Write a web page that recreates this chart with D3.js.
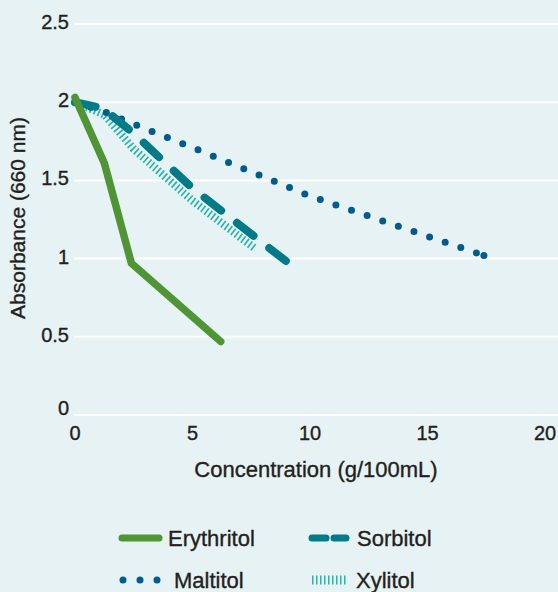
<!DOCTYPE html>
<html>
<head>
<meta charset="utf-8">
<script src="https://cdn.jsdelivr.net/npm/d3@7"></script>
<style>
html,body{margin:0;padding:0;background:#e6f2f3;}
svg{display:block;}
text{font-family:"Liberation Sans",Arial,Helvetica,sans-serif;fill:#231f20;stroke:#231f20;stroke-width:0.35px;}
</style>
</head>
<body>
<svg id="chart" width="558" height="592"></svg>
<script>
// ---- data ----
const xTicks = [0, 5, 10, 15, 20];
const yTicks = [0, 0.5, 1, 1.5, 2, 2.5];
const yTickLabels = ["0", "0.5", "1", "1.5", "2", "2.5"];
const seriesNames = ["Erythritol", "Sorbitol", "Maltitol", "Xylitol"];
const erythritolX = [0, 1.25, 2.4, 6.2];
const erythritolY = [2.03, 1.61, 0.97, 0.47];
const sorbitolX = [0, 1.2, 2.5, 5, 9.1];
const sorbitolY = [2.0, 1.96, 1.8, 1.45, 0.97];
const maltitolX = [0, 1.25, 2.5, 5, 10, 17.4];
const maltitolY = [2.0, 1.94, 1.86, 1.71, 1.40, 1.02];
const xylitolX = [0, 1.25, 2.5, 5, 7.7];
const xylitolY = [2.0, 1.92, 1.70, 1.37, 1.06];
const xTitle = "Concentration (g/100mL)";
const yTitle = "Absorbance (660 nm)";

const svg = d3.select("#chart");
const x = d3.scaleLinear().domain([0, 20]).range([75, 545]);
const y = d3.scaleLinear().domain([0, 2.5]).range([415, 24]);

// gridlines
svg.append("g").selectAll("line").data(yTicks).join("line")
  .attr("x1", 74).attr("x2", 558)
  .attr("y1", d => y(d)).attr("y2", d => y(d))
  .attr("stroke", "#ffffff").attr("stroke-width", 2);

// y tick labels
svg.append("g").selectAll("text").data(yTicks).join("text")
  .attr("x", 69).attr("y", d => d === 0 ? y(d) : y(d) + 5)
  .attr("text-anchor", "end").attr("font-size", 20)
  .text((d, i) => yTickLabels[i]);

// x tick labels
svg.append("g").selectAll("text").data(xTicks).join("text")
  .attr("x", d => x(d)).attr("y", 440)
  .attr("text-anchor", "middle").attr("font-size", 20)
  .text(d => d);

// axis titles
svg.append("text").attr("x", 316).attr("y", 477)
  .attr("text-anchor", "middle").attr("font-size", 22).text(xTitle);
svg.append("text").attr("transform", "translate(25,218) rotate(-90)")
  .attr("text-anchor", "middle").attr("font-size", 21).text(yTitle);

const styles = {
  Erythritol: {color: "#4f9535", width: 7.5, dash: null, cap: "round"},
  Sorbitol: {color: "#007b87", width: 8, dash: "21 20", cap: "round"},
  Maltitol: {color: "#005c8c", width: 7, dash: "0 16.5", cap: "round"},
  Xylitol: {color: "#2bb3ae", width: 8, dash: "1.7 2.5", cap: "butt"}
};
const seriesData = {
  Erythritol: erythritolX.map((v, i) => [v, erythritolY[i]]),
  Sorbitol: sorbitolX.map((v, i) => [v, sorbitolY[i]]),
  Maltitol: maltitolX.map((v, i) => [v, maltitolY[i]]),
  Xylitol: xylitolX.map((v, i) => [v, xylitolY[i]])
};
const line = d3.line().x(d => x(d[0])).y(d => y(d[1]));
const drawOrder = ["Xylitol", "Maltitol", "Sorbitol", "Erythritol"];
drawOrder.forEach(name => {
  const s = styles[name];
  svg.append("path").datum(seriesData[name])
    .attr("d", line).attr("fill", "none")
    .attr("stroke", s.color).attr("stroke-width", s.width)
    .attr("stroke-linecap", s.cap).attr("stroke-linejoin", "round")
    .attr("stroke-dasharray", s.dash);
  if (name === "Maltitol") {
    const last = seriesData[name][seriesData[name].length - 1];
    svg.append("circle").attr("cx", x(last[0])).attr("cy", y(last[1]))
      .attr("r", s.width / 2).attr("fill", s.color);
  }
});

// legend
const legendPos = {
  Erythritol: {x1: 122, x2: 159, y: 538, tx: 168, dash: null},
  Sorbitol: {x1: 312, x2: 346, y: 538, tx: 357, dash: "14 8"},
  Maltitol: {x1: 123, x2: 158, y: 580, tx: 174, dash: "0 17"},
  Xylitol: {x1: 312, x2: 347, y: 580, tx: 356, dash: "1.5 2.5"}
};
seriesNames.forEach(name => {
  const s = styles[name], p = legendPos[name];
  svg.append("line").attr("x1", p.x1).attr("x2", p.x2).attr("y1", p.y).attr("y2", p.y)
    .attr("stroke", s.color).attr("stroke-width", name === "Xylitol" ? 9 : 7)
    .attr("stroke-linecap", s.cap).attr("stroke-dasharray", p.dash);
  svg.append("text").attr("x", p.tx).attr("y", p.y + 7.5)
    .attr("font-size", 22).text(name);
});
</script>
</body>
</html>
